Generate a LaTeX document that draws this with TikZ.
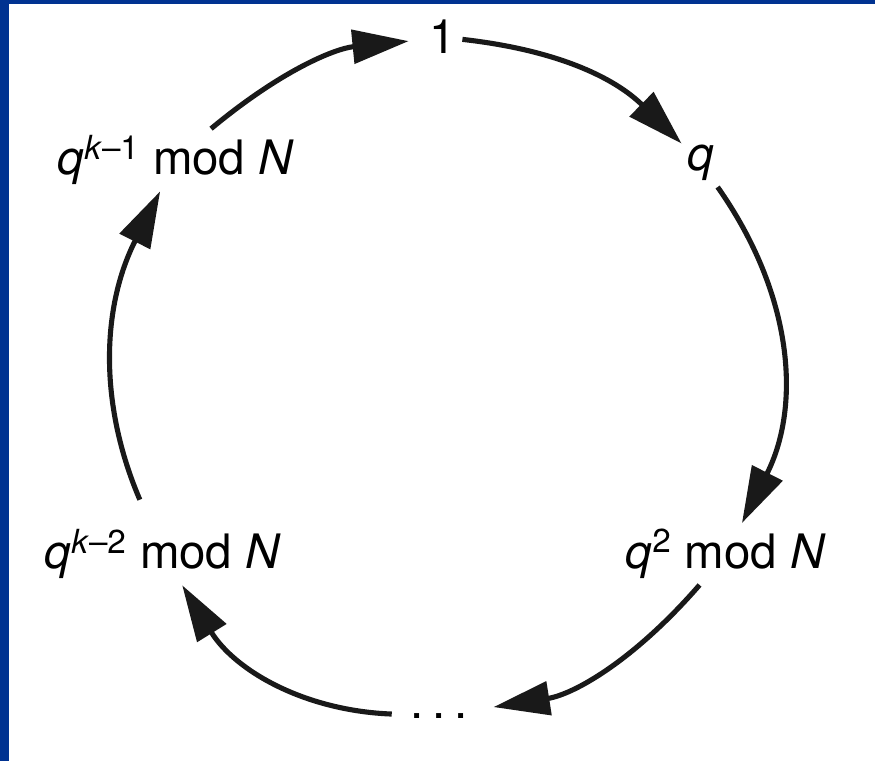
\documentclass[tikz,border=0pt]{standalone}
\usepackage{fontspec}
\setmainfont{TeX Gyre Heros}
\usepackage{tikz}
\usetikzlibrary{arrows.meta}
\definecolor{frameblue}{RGB}{0,50,145}

\begin{document}
\begin{tikzpicture}[
    >={Triangle[length=32pt,width=19pt]},
    lbl/.style={font=\fontsize{27}{32}\selectfont},
    cyc/.style={->, line width=2.9pt, black!90}
]

\useasboundingbox (0,0) rectangle (17.5,15.22);

% ---------------- MARC ----------------

% Barra esquerra i barra superior
\fill[frameblue] (0,0) rectangle (0.18,15.22);
\fill[frameblue] (0,15.14) rectangle (17.5,15.22);


% ---------------- ETIQUETES ----------------

\node[lbl] (one) at (8.86,14.48) {1};
\node[lbl] (q) at (14.02,11.96) {\textit{q}};
\node[lbl] (qsq) at (14.52,4.14)
    {\textit{q}\textsuperscript{2} mod \textit{N}};
\node[lbl] (dots) at (8.78,0.9) {.\hspace{5pt}.\hspace{5pt}.};
\node[lbl] (qkm2) at (3.26,4.14)
    {\textit{q}\textsuperscript{\textit{k}–2} mod \textit{N}};
\node[lbl] (qkm1) at (3.52,12.02)
    {\textit{q}\textsuperscript{\textit{k}–1} mod \textit{N}};


% ---------------- CICLE ----------------

\draw[cyc] (one) to[bend left=19] (q);

\draw[cyc] (q) to[bend left=31] (qsq);

\draw[
    cyc,
    shorten >=0.4cm
] (qsq) to[bend left=20] (dots);

\draw[
    cyc,
    shorten <=0.25cm
] (dots) to[bend left=28] (qkm2);

\draw[
    cyc,
    shorten <=0.5cm
] (qkm2) to[bend left=25] (qkm1);

\draw[
    cyc,
    shorten >=0.3cm
] (qkm1) to[bend left=17] (one);

\end{tikzpicture}
\end{document}
